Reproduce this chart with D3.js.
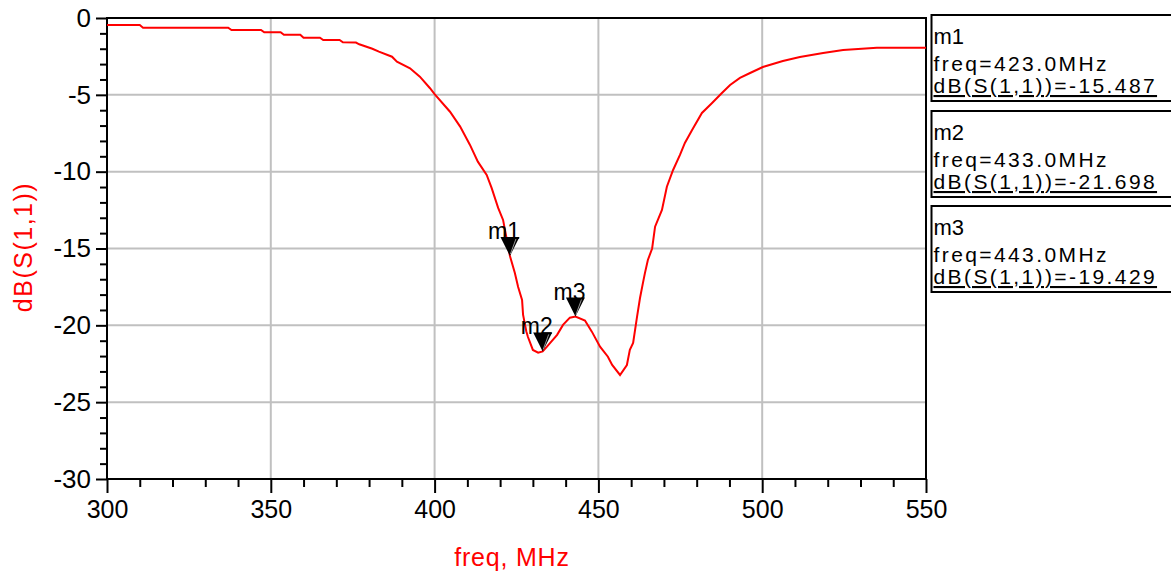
<!DOCTYPE html>
<html>
<head>
<meta charset="utf-8">
<script src="https://cdn.jsdelivr.net/npm/d3@7"></script>
<style>
body { margin: 0; background: #fff; }
svg { font-family: 'Liberation Sans', Arial, sans-serif; }
.grid line { stroke: #c0c0c0; stroke-width: 2px; }
.tick line { stroke: #000; stroke-width: 2px; }
</style>
</head>
<body>
<svg id="chart" width="1171" height="576"></svg>
<script>
'use strict';
//Curve: frequency in MHz and dB(S(1,1)).
const freq = [300, 310, 311, 337, 338, 347, 348, 353, 354, 359, 360, 365, 366, 371, 372, 376, 377,
	381, 383, 387, 388.5, 392.5, 395.5, 398.6, 400, 404.7, 407.8, 410.8, 413.2, 415.9, 417.4, 419.4,
	420.9, 423, 424.5, 425.5, 426.7, 427, 428, 428.5, 430, 431.6, 433, 434.3, 437.4, 439.2, 441.3,
	443, 445.9, 448, 450.5, 452.9, 454.2, 456.6, 458.7, 459.6, 460.6, 461.8, 462.7, 463.6, 464.2,
	465.1, 466.4, 467.3, 469.4, 470.9, 472.8, 474.9, 476.4, 478.6, 481.6, 484.7, 487.7, 490.2, 493.2,
	496.3, 500.2, 506.3, 511.5, 518.6, 524.7, 535, 550];
const dB = [-0.46, -0.46, -0.63, -0.63, -0.78, -0.78, -0.93, -0.93, -1.09, -1.09, -1.28, -1.28, -1.43,
	-1.43, -1.58, -1.6, -1.71, -2.0, -2.19, -2.52, -2.84, -3.27, -3.82, -4.57, -4.95, -6.10, -7.07,
	-8.26, -9.35, -10.21, -11.06, -12.36, -13.14, -15.487, -16.59, -17.5, -18.35, -19.3, -20.4,
	-20.76, -21.6, -21.78, -21.698, -21.39, -20.62, -19.97, -19.5, -19.429, -19.69, -20.41, -21.39,
	-22.04, -22.58, -23.23, -22.58, -21.6, -21.15, -19.43, -18.22, -17.24, -16.6, -15.75, -15.0,
	-13.58, -12.49, -10.98, -9.89, -8.91, -8.13, -7.29, -6.18, -5.53, -4.88, -4.36, -3.9, -3.58,
	-3.19, -2.8, -2.54, -2.28, -2.08, -1.93, -1.93];
//Markers.
const mkNames = ['m1', 'm2', 'm3'];
const mkFreq = [423.0, 433.0, 443.0];
const mkVal = [-15.487, -21.698, -19.429];
//Ticks.
const xTicks = [300, 350, 400, 450, 500, 550];
const yTicks = [0, -5, -10, -15, -20, -25, -30];

const svg = d3.select('#chart');
const x = d3.scaleLinear().domain([300, 550]).range([107, 926]);
const y = d3.scaleLinear().domain([-30, 0]).range([479, 18]);

//Grid lines first.
const grid = svg.append('g').attr('class', 'grid');
grid.selectAll('line.v').data(xTicks.slice(1, -1)).join('line')
	.attr('x1', d => x(d)).attr('x2', d => x(d))
	.attr('y1', y(0)).attr('y2', y(-30));
grid.selectAll('line.h').data(yTicks.slice(1, -1)).join('line')
	.attr('class', 'h')
	.attr('x1', x(300)).attr('x2', x(550))
	.attr('y1', d => y(d)).attr('y2', d => y(d));

//Axes: major ticks with labels, minor ticks without. Plain hyphen for minus.
svg.append('g').attr('class', 'yax').attr('transform', `translate(${x(300)},0)`)
	.call(d3.axisLeft(y).tickValues(yTicks).tickSize(11).tickPadding(5).tickFormat(d => String(d)));
svg.append('g').attr('transform', `translate(${x(300)},0)`)
	.call(d3.axisLeft(y).tickValues(d3.range(-29, 0, 1).filter(d => d % 5 !== 0)).tickSize(7).tickFormat(''));
svg.append('g').attr('class', 'xax').attr('transform', `translate(0,${y(-30)})`)
	.call(d3.axisBottom(x).tickValues(xTicks).tickSize(14).tickPadding(7).tickFormat(d => String(d)));
svg.append('g').attr('transform', `translate(0,${y(-30)})`)
	.call(d3.axisBottom(x).tickValues(d3.range(310, 550, 10).filter(d => d % 50 !== 0)).tickSize(8).tickFormat(''));
svg.selectAll('.domain').remove();
svg.selectAll('.tick text')
	.style('font-family', "'Liberation Sans', Arial, sans-serif")
	.attr('fill', '#000');
svg.selectAll('.yax .tick text').style('font-size', '26px');
svg.selectAll('.xax .tick text').style('font-size', '25px');

//Frame round the plot.
svg.append('rect')
	.attr('x', x(300)).attr('y', y(0))
	.attr('width', x(550) - x(300)).attr('height', y(-30) - y(0))
	.attr('fill', 'none').attr('stroke', '#000').attr('stroke-width', 2);

//The curve.
const pts = freq.map((f, i) => [f, dB[i]]);
svg.append('path')
	.datum(pts)
	.attr('fill', 'none')
	.attr('stroke', '#ff0000')
	.attr('stroke-width', 2)
	.attr('d', d3.line().x(d => x(d[0])).y(d => y(d[1])));

//Markers on the curve: label then a down pointing triangle.
mkNames.forEach((m, i) => {
	const cx = x(mkFreq[i]);
	const cy = y(mkVal[i]);
	svg.append('text')
		.attr('x', cx - 6).attr('y', cy - 17)
		.attr('text-anchor', 'middle')
		.style('font-size', '23px')
		.text(m);
	svg.append('path')
		.attr('d', `M${cx - 9.5},${cy - 19}L${cx + 9.5},${cy - 19}L${cx},${cy}Z`)
		.attr('fill', '#000');
	svg.append('line')
		.attr('x1', cx + 0.5).attr('y1', cy - 2)
		.attr('x2', cx + 6).attr('y2', cy - 17)
		.attr('stroke', '#bbb').attr('stroke-width', 0.8);
});

//Marker readout boxes on the right.
const boxTop = [15, 111, 206];
mkNames.forEach((m, i) => {
	const g = svg.append('g').attr('transform', `translate(931.5,${boxTop[i]})`);
	g.append('rect')
		.attr('width', 250).attr('height', 86)
		.attr('fill', '#fff').attr('stroke', '#000').attr('stroke-width', 2);
	g.append('text').attr('x', 2).attr('y', 29)
		.style('font-size', '22px').text(m);
	g.append('text').attr('x', 2).attr('y', 56)
		.style('font-size', '21px').style('letter-spacing', '2.4px')
		.text(`freq=${mkFreq[i].toFixed(1)}MHz`);
	g.append('text').attr('x', 2).attr('y', 78)
		.style('font-size', '21px').style('letter-spacing', '2.4px')
		.style('text-decoration', 'underline')
		.text(`dB(S(1,1))=${mkVal[i].toFixed(3)}`);
});

//Axis titles.
svg.append('text')
	.attr('transform', 'translate(32,247) rotate(-90)')
	.attr('text-anchor', 'middle')
	.attr('fill', '#ff0000')
	.style('font-size', '25px').style('letter-spacing', '1.5px')
	.text('dB(S(1,1))');
svg.append('text')
	.attr('x', 512).attr('y', 566)
	.attr('text-anchor', 'middle')
	.attr('fill', '#ff0000')
	.style('font-size', '25px').style('letter-spacing', '0.8px')
	.text('freq, MHz');
</script>
</body>
</html>
